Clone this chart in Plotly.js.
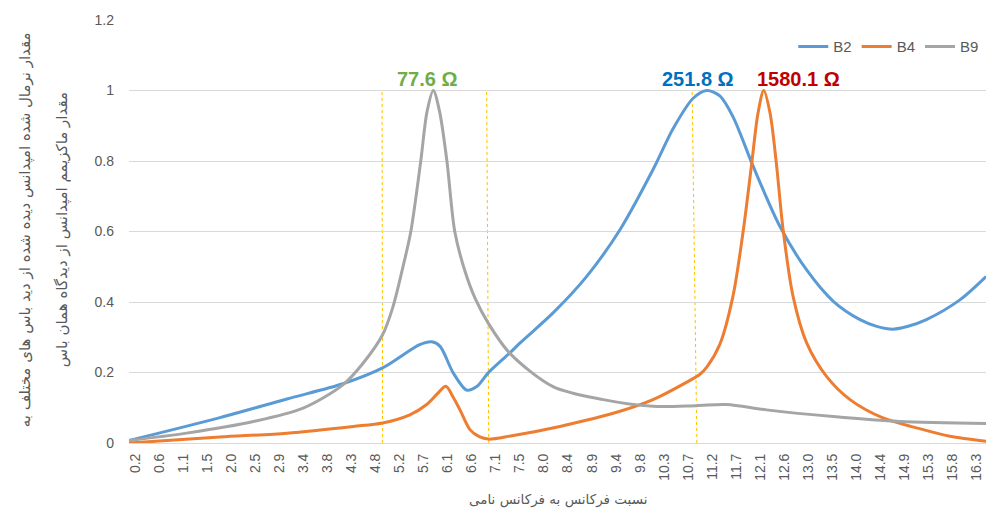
<!DOCTYPE html>
<html>
<head>
<meta charset="utf-8">
<script src="https://cdn.plot.ly/plotly-3.0.1.min.js"></script>
<style>html,body{margin:0;padding:0;background:#fff}#chart{width:986px;height:514px}</style>
</head>
<body>
<div id="chart"></div>
<script>
// Tick labels of the frequency-ratio axis
const tickLabels = ["0.2","0.6","1.1","1.5","2.0","2.5","2.9","3.4","3.8","4.3","4.8","5.2","5.7","6.1","6.6","7.1","7.5","8.0","8.4","8.9","9.4","9.8","10.3","10.7","11.2","11.7","12.1","12.6","13.0","13.5","14.0","14.4","14.9","15.3","15.8","16.3"];

// B2 series
const b2Freq = [0.2, 1.94, 3.22, 4.29, 5.05, 5.76, 5.99, 6.15, 6.40, 6.66, 6.85, 7.07, 7.48, 7.68, 8.31, 8.95, 9.59, 10.22, 10.61, 10.99, 11.25, 11.50, 11.75, 12.14, 12.65, 13.16, 13.67, 14.18, 14.5, 14.81, 15.1, 15.45, 16.09, 16.59];
const b2Val  = [0.007, 0.072, 0.125, 0.168, 0.213, 0.279, 0.287, 0.274, 0.199, 0.150, 0.160, 0.199, 0.255, 0.284, 0.369, 0.472, 0.605, 0.775, 0.893, 0.978, 1.0, 0.985, 0.926, 0.784, 0.614, 0.491, 0.402, 0.350, 0.331, 0.323, 0.331, 0.350, 0.406, 0.472];

// B4 series
const b4Freq = [0.2, 1.94, 3.22, 4.49, 5.05, 5.57, 5.9, 6.1, 6.26, 6.4, 6.53, 6.72, 6.9, 7.07, 7.5, 8.44, 9.59, 10.22, 10.86, 11.12, 11.25, 11.5, 11.75, 11.95, 12.11, 12.23, 12.34, 12.46, 12.58, 12.71, 12.90, 13.16, 13.54, 13.99, 14.62, 15.26, 15.90, 16.59];
const b4Val  = [0.0, 0.017, 0.028, 0.047, 0.057, 0.08, 0.11, 0.14, 0.161, 0.13, 0.094, 0.038, 0.018, 0.011, 0.02, 0.047, 0.09, 0.123, 0.172, 0.195, 0.215, 0.28, 0.416, 0.605, 0.794, 0.936, 1.0, 0.936, 0.794, 0.605, 0.416, 0.284, 0.189, 0.123, 0.071, 0.043, 0.019, 0.005];

// B9 series
const b9Freq = [0.2, 1.30, 2.58, 3.53, 4.29, 4.68, 5.05, 5.25, 5.44, 5.59, 5.78, 5.9, 6.02, 6.14, 6.28, 6.43, 6.62, 6.82, 7.07, 7.48, 8.31, 9.27, 10.22, 11.05, 11.63, 12.39, 13.67, 14.94, 16.59];
const b9Val  = [0.007, 0.028, 0.061, 0.099, 0.165, 0.227, 0.307, 0.387, 0.50, 0.60, 0.80, 0.94, 1.0, 0.94, 0.80, 0.60, 0.49, 0.41, 0.34, 0.255, 0.16, 0.123, 0.104, 0.106, 0.109, 0.094, 0.075, 0.061, 0.055];

// Peak impedance labels
const peakLabels = ["77.6 Ω", "251.8 Ω", "1580.1 Ω"];
const peakColors = ["#70AD47", "#0070C0", "#C00000"];

// Dotted marker lines (bottom, top)
const markBottom = [5.05, 7.08, 11.06];
const markTop    = [5.04, 7.04, 10.97];

const tickStart = 0.2, tickStep = (16.3 - 0.2) / 35;
const tickVals = tickLabels.map((_, i) => tickStart + i * tickStep);

const mk = (name, x, y, color) => ({
  type: 'scatter', mode: 'lines', name, x, y,
  line: {color, width: 3, shape: 'spline', smoothing: 0.85},
  hoverinfo: 'x+y'
});

const data = [
  mk('B2', b2Freq, b2Val, '#5B9BD5'),
  mk('B4', b4Freq, b4Val, '#ED7D31'),
  mk('B9', b9Freq, b9Val, '#A5A5A5')
];

const shapes = markBottom.map((xb, i) => ({
  type: 'line', xref: 'x', yref: 'y', x0: xb, y0: 0, x1: markTop[i], y1: 1.0,
  line: {color: '#FFC000', width: 1, dash: 'dot'}, layer: 'below'
}));

const labelX = [5.91, 11.08, 13.01];
const annotations = peakLabels.map((t, i) => ({
  text: '<b>' + t + '</b>', x: labelX[i], y: 1.032, xref: 'x', yref: 'y',
  xanchor: 'center', yanchor: 'middle', showarrow: false,
  font: {family: 'Liberation Sans, Arial, sans-serif', size: 20, color: peakColors[i]}
}));
annotations.push({
  text: 'مقدار نرمال شده امپدانس دیده شده از دید باس های مختلف به',
  xref: 'paper', yref: 'paper', x: -0.1214, y: 0.505, textangle: -90,
  xanchor: 'center', yanchor: 'middle', showarrow: false,
  font: {family: 'DejaVu Sans, sans-serif', size: 15, color: '#595959'}
});
annotations.push({
  text: 'مقدار ماکزیمم امپدانس از دیدگاه همان باس',
  xref: 'paper', yref: 'paper', x: -0.0782, y: 0.505, textangle: -90,
  xanchor: 'center', yanchor: 'middle', showarrow: false,
  font: {family: 'DejaVu Sans, sans-serif', size: 15, color: '#595959'}
});
annotations.push({
  text: 'نسبت فرکانس به فرکانس نامی',
  xref: 'paper', yref: 'paper', x: 0.5, y: -0.134,
  xanchor: 'center', yanchor: 'middle', showarrow: false,
  font: {family: 'DejaVu Sans, sans-serif', size: 13.5, color: '#595959'}
});

const layout = {
  width: 986, height: 514,
  margin: {l: 129, r: 0, t: 20, b: 71},
  paper_bgcolor: '#ffffff', plot_bgcolor: '#ffffff',
  font: {family: 'Liberation Sans, Arial, sans-serif', color: '#595959', size: 14},
  showlegend: true,
  legend: {orientation: 'h', x: 0.998, xanchor: 'right', y: 0.937, yanchor: 'middle',
           font: {size: 15, color: '#595959'}, itemwidth: 30, bgcolor: 'rgba(0,0,0,0)', tracegroupgap: 0},
  xaxis: {
    type: 'linear', range: [0.2, 16.59], tickmode: 'array', tickvals: tickVals, ticktext: tickLabels,
    tickangle: -90, showgrid: false, zeroline: false, showline: true, linecolor: '#D9D9D9', linewidth: 1,
    ticks: '', ticklabelshift: 6, ticklabelstandoff: 4, tickfont: {size: 14, color: '#595959'}
  },
  yaxis: {
    range: [0, 1.2], tick0: 0, dtick: 0.2, showgrid: true, gridcolor: '#D9D9D9', gridwidth: 1,
    zeroline: false, showline: false, ticks: '', ticklabelstandoff: 14,
    tickfont: {size: 14, color: '#595959'}
  },
  shapes, annotations
};

Plotly.newPlot('chart', data, layout, {displayModeBar: false, staticPlot: true});
</script>
</body>
</html>
